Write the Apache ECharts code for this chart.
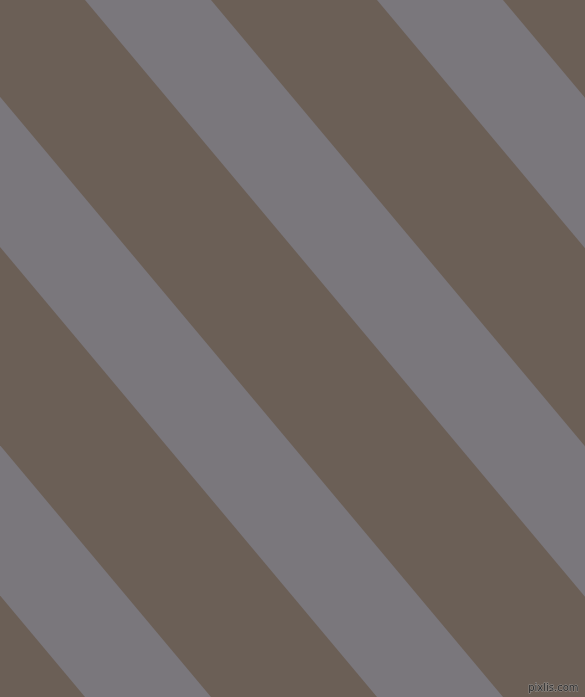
<!DOCTYPE html>
<html>
<head>
<meta charset="utf-8">
<script src="https://cdn.jsdelivr.net/npm/echarts@6/dist/echarts.min.js"></script>
<style>
html,body{margin:0;padding:0;background:#6b5f56;}
#main{width:585px;height:697px;}
</style>
</head>
<body>
<div id="main"></div>
<script>
// gray bands, x where each edge meets the top (y=0) and bottom (y=697) of the picture
var topLeft = [-499, -207, 85, 377];
var topRight = [-373, -81, 211, 503];
var bottomLeft = [85, 377, 669, 961];
var bottomRight = [211, 503, 795, 1087];

var bands = [];
for (var i = 0; i < topLeft.length; i++) {
    bands.push([topLeft[i], topRight[i], bottomLeft[i], bottomRight[i]]);
}

var myChart = echarts.init(document.getElementById('main'));
myChart.setOption({
    backgroundColor: '#6b5f56',
    animation: false,
    grid: {left: 0, right: 0, top: 0, bottom: 0},
    xAxis: {type: 'value', min: 0, max: 585, show: false},
    yAxis: {type: 'value', min: 0, max: 697, inverse: true, show: false},
    series: [{
        type: 'custom',
        clip: true,
        data: bands,
        renderItem: function (params, api) {
            var pts = [
                api.coord([api.value(0), 0]),
                api.coord([api.value(1), 0]),
                api.coord([api.value(3), 697]),
                api.coord([api.value(2), 697])
            ];
            return {
                type: 'polygon',
                shape: {points: pts},
                style: {fill: '#7a777c'}
            };
        }
    }],
    graphic: [{
        type: 'text',
        right: 6,
        bottom: 3,
        style: {
            text: 'pixlis.com',
            font: '10px "DejaVu Sans"',
            fill: '#2b2b2b',
            stroke: 'rgba(170,170,170,0.7)',
            lineWidth: 1
        }
    }]
});
</script>
</body>
</html>
